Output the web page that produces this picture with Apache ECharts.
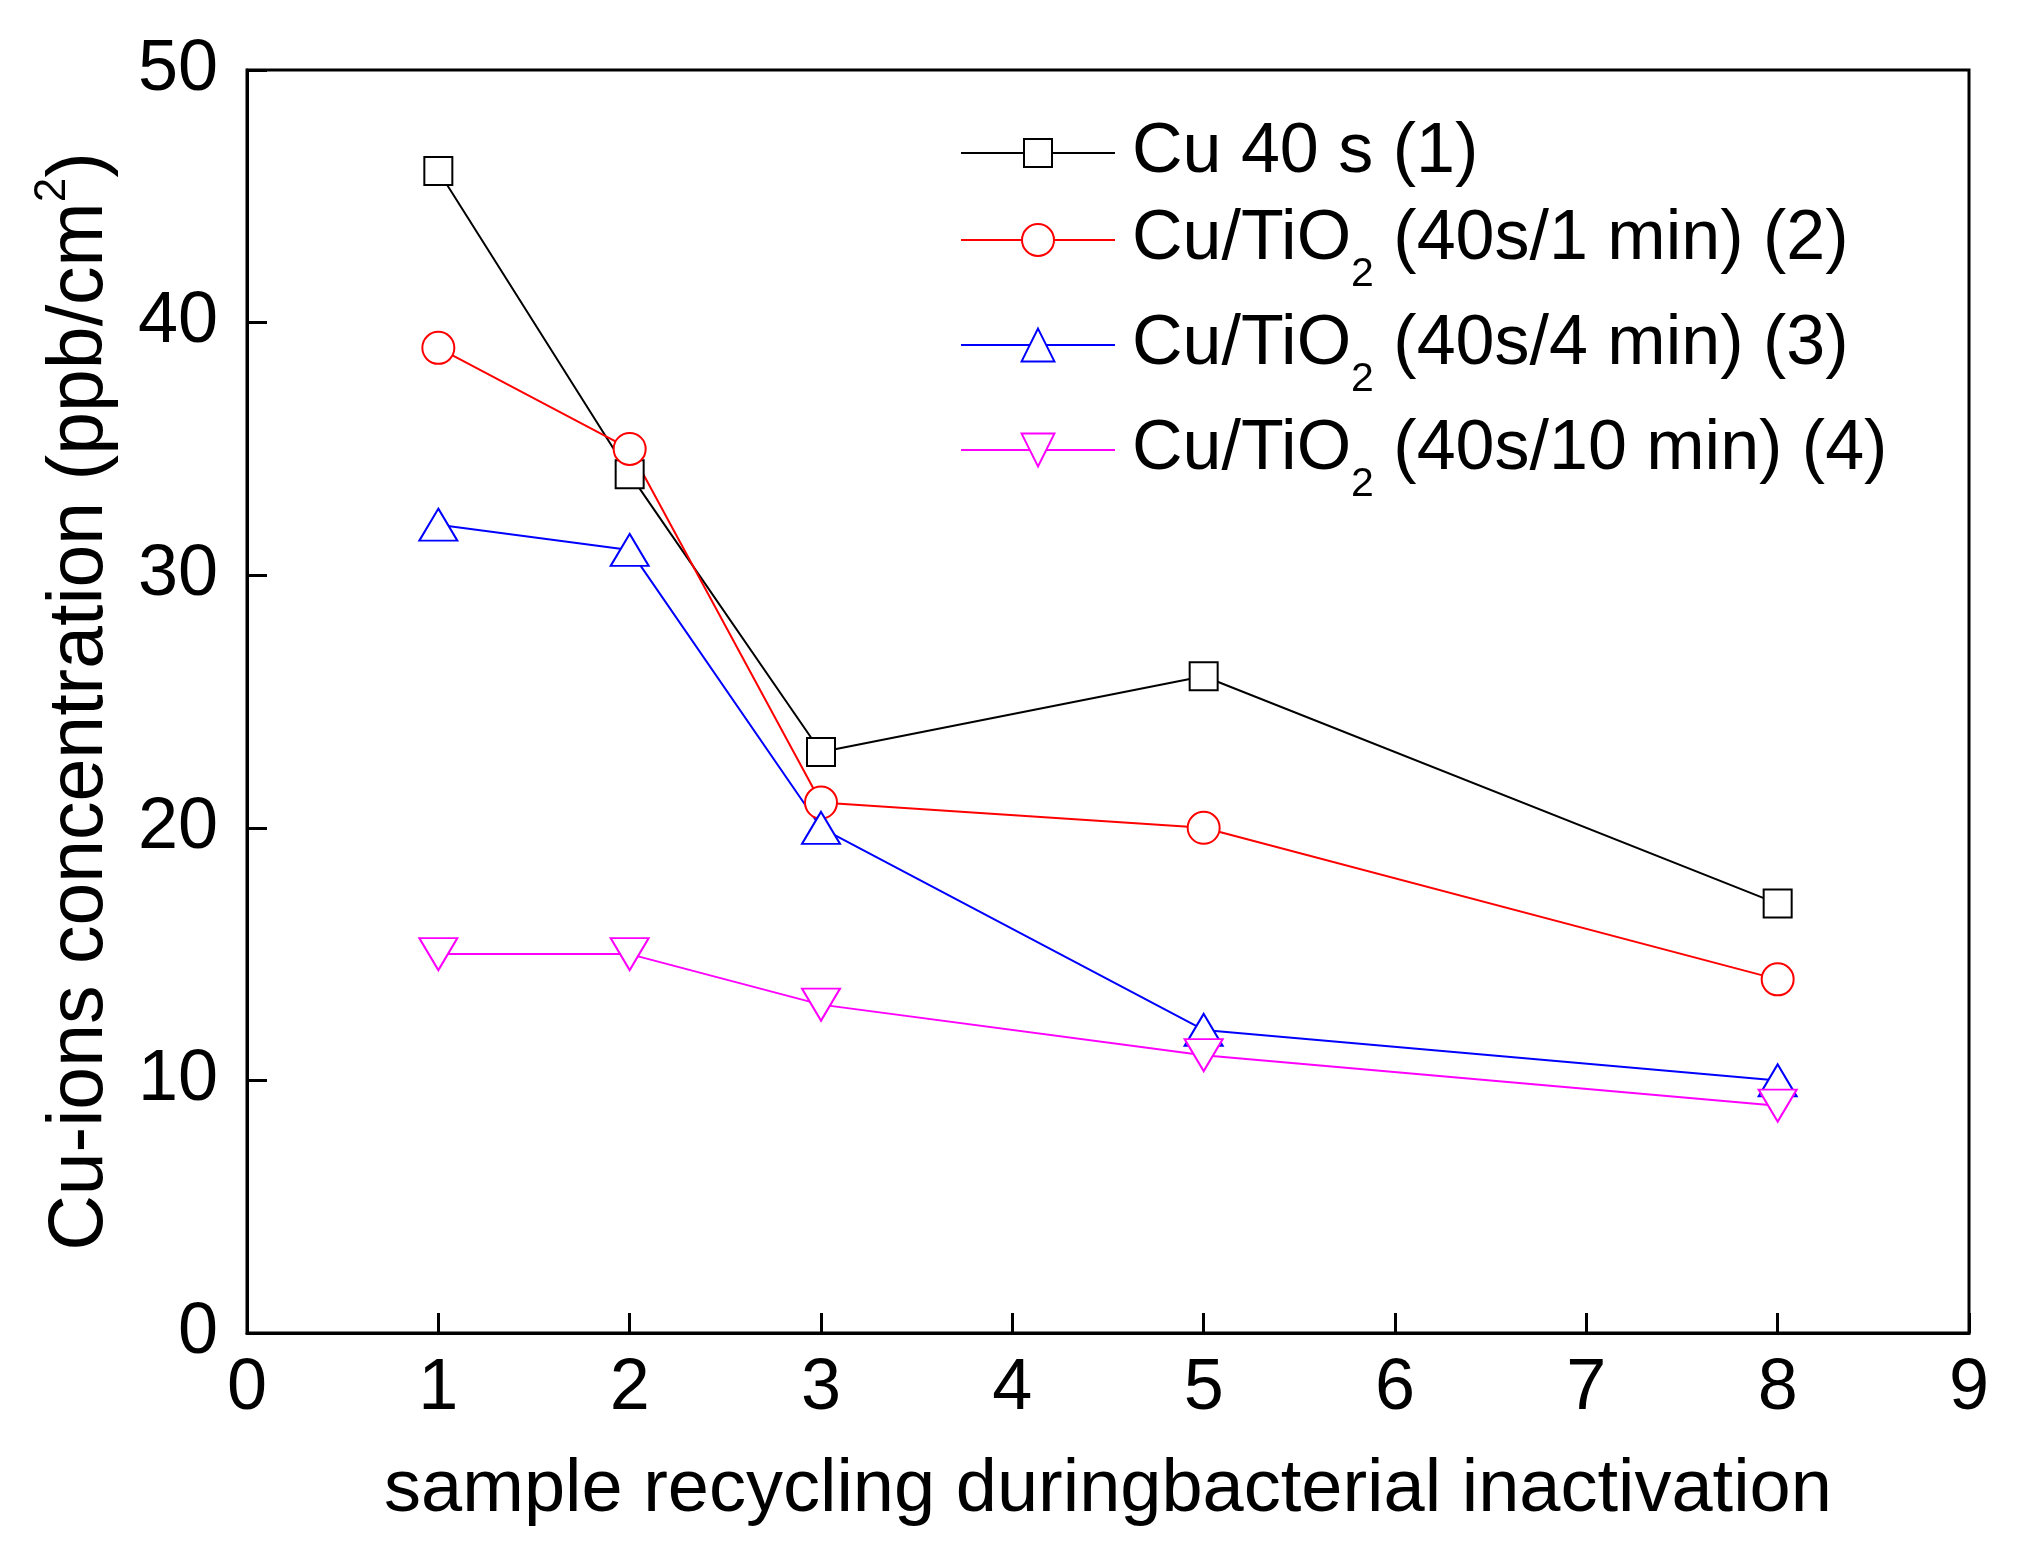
<!DOCTYPE html>
<html>
<head>
<meta charset="utf-8">
<script src="https://cdn.jsdelivr.net/npm/echarts@6/dist/echarts.min.js"></script>
<style>
  html, body { margin: 0; padding: 0; background: #fff; }
  #chart { width: 2019px; height: 1550px; }
</style>
</head>
<body>
<div id="chart"></div>
<script>
// ---- data ----
const xValues = [1, 2, 3, 5, 8];
const cu40s = [46, 34, 23, 26, 17];
const cuTiO2_1min = [39, 35, 21, 20, 14];
const cuTiO2_4min = [32, 31, 20, 12, 10];
const cuTiO2_10min = [15, 15, 13, 11, 9];

const seriesNames = [
  'Cu 40 s (1)',
  'Cu/TiO2 (40s/1 min) (2)',
  'Cu/TiO2 (40s/4 min) (3)',
  'Cu/TiO2 (40s/10 min) (4)'
];
const legendRich = [
  '{f|Cu 40 s (1)}',
  '{f|Cu/TiO}{s|2}{a| (40s/1 min) (2)}',
  '{f|Cu/TiO}{s|2}{a| (40s/4 min) (3)}',
  '{f|Cu/TiO}{s|2}{a| (40s/10 min) (4)}'
];
const xTitle = 'sample recycling duringbacterial inactivation';
const yTitleRich = '{a|Cu-ions concentration (ppb/cm}{p|2}{a|)}';

const FONT = '"Liberation Sans", Arial, sans-serif';

function pairs(ys) { return xValues.map((x, i) => [x, ys[i]]); }

const chart = echarts.init(document.getElementById('chart'), null, { renderer: 'canvas' });

const legendTops = [118, 205, 310, 415];
const legendItemHeights = [35, 40, 41, 41];

const legends = seriesNames.map((name, i) => ({
  data: [name],
  left: 960,
  top: legendTops[i],
  padding: 0,
  itemWidth: 154,
  itemHeight: legendItemHeights[i],
  selectedMode: false,
  formatter: () => legendRich[i],
  textStyle: {
    color: '#000',
    fontFamily: FONT,
    fontSize: 70,
    rich: {
      f: { fontSize: 70, fontFamily: FONT, color: '#000', padding: [0, 0, 0, 12] },
      a: { fontSize: 70, fontFamily: FONT, color: '#000' },
      s: { fontSize: 41, fontFamily: FONT, color: '#000', padding: [70, 0, 0, 0] }
    }
  }
}));

const option = {
  animation: false,
  backgroundColor: '#fff',
  textStyle: { fontFamily: FONT },
  grid: {
    left: 247, right: 50, top: 70, bottom: 217,
    show: true, borderColor: '#000', borderWidth: 3, backgroundColor: 'transparent'
  },
  legend: legends,
  xAxis: {
    type: 'value',
    min: 0, max: 9, interval: 1,
    name: xTitle,
    nameLocation: 'middle',
    nameGap: 121,
    nameTextStyle: { fontSize: 74, color: '#000', fontFamily: FONT },
    axisLine: { show: true, lineStyle: { color: '#000', width: 3 } },
    axisTick: { show: true, inside: true, length: 20, lineStyle: { color: '#000', width: 3 } },
    axisLabel: { fontSize: 72, color: '#000', margin: 20, fontFamily: FONT },
    splitLine: { show: false }
  },
  yAxis: {
    type: 'value',
    min: 0, max: 50, interval: 10,
    name: yTitleRich,
    nameLocation: 'middle',
    nameRotate: 90,
    nameGap: 116,
    nameTextStyle: {
      fontSize: 77, color: '#000', fontFamily: FONT,
      rich: {
        a: { fontSize: 77, color: '#000', fontFamily: FONT },
        p: { fontSize: 44, color: '#000', fontFamily: FONT, padding: [0, 0, 56, 0] }
      }
    },
    axisLine: { show: true, lineStyle: { color: '#000', width: 3 } },
    axisTick: { show: true, inside: true, length: 20, lineStyle: { color: '#000', width: 3 } },
    axisLabel: { fontSize: 72, color: '#000', margin: 29, fontFamily: FONT },
    splitLine: { show: false }
  },
  series: [
    {
      name: seriesNames[0], type: 'line', data: pairs(cu40s),
      symbol: 'emptyRect', symbolSize: 28,
      lineStyle: { color: '#000', width: 2 },
      itemStyle: { color: '#000', borderWidth: 2.5 }
    },
    {
      name: seriesNames[1], type: 'line', data: pairs(cuTiO2_1min),
      symbol: 'emptyCircle', symbolSize: 32,
      lineStyle: { color: '#ff0000', width: 2 },
      itemStyle: { color: '#ff0000', borderWidth: 2 }
    },
    {
      name: seriesNames[2], type: 'line', data: pairs(cuTiO2_4min),
      symbol: 'emptyTriangle', symbolSize: [38, 32],
      lineStyle: { color: '#0000ff', width: 2 },
      itemStyle: { color: '#0000ff', borderWidth: 2 }
    },
    {
      name: seriesNames[3], type: 'line', data: pairs(cuTiO2_10min),
      symbol: 'emptyTriangle', symbolSize: [38, 32], symbolRotate: 180,
      lineStyle: { color: '#ff00ff', width: 2 },
      itemStyle: { color: '#ff00ff', borderWidth: 2 }
    }
  ]
};

chart.setOption(option);
</script>
</body>
</html>
